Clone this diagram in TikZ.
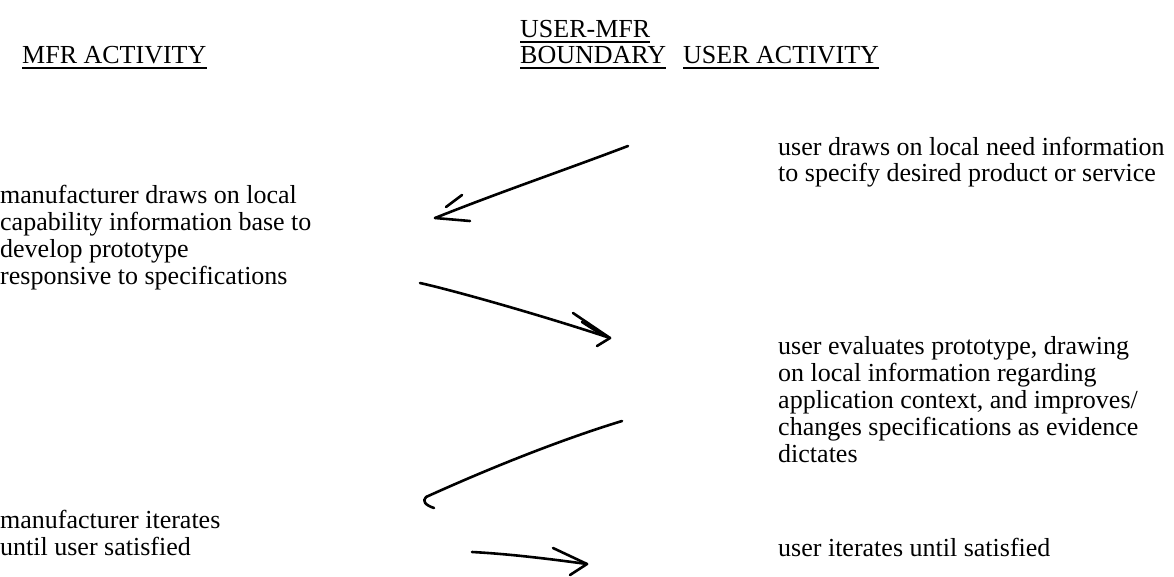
\documentclass[tikz,border=0pt]{standalone}
\usepackage{fontspec}
\setmainfont{Liberation Serif}
\begin{document}
\begin{tikzpicture}[x=1pt,y=-1pt,
  txt/.style={anchor=base west,inner sep=0pt,align=left,font=\fontsize{26}{26.8}\selectfont},
  hd/.style={anchor=base west,inner sep=0pt,font=\fontsize{26}{26.8}\selectfont},
  pen/.style={line width=2.6pt,line cap=round,line join=round},
  ul/.style={line width=1.6pt}]
\useasboundingbox (0,0) rectangle (1174,577);
% headings
\node[hd] (h1) at (22,64) {MFR ACTIVITY};
\node[hd] (h2a) at (520,38) {USER-MFR};
\node[hd] (h2b) at (520,64) {BOUNDARY};
\node[hd] (h3) at (683,64) {USER ACTIVITY};
\foreach \n in {h1,h2a,h2b,h3}{\draw[ul] ([yshift=-4pt]\n.base west) -- ([yshift=-4pt]\n.base east);}
% texts (anchored at the baseline of the last line)
\node[txt] (r1) at (778,182) {user draws on local need information\\to specify desired product or service};
\node[txt] (l1) at (0,284) {manufacturer draws on local\\capability information base to\\develop prototype\\responsive to specifications};
\node[txt] (r2) at (778,462) {user evaluates prototype, drawing\\on local information regarding\\application context, and improves/\\changes specifications as evidence\\dictates};
\node[txt] (l2) at (0,555) {manufacturer iterates\\until user satisfied};
\node[txt] (r3) at (778,556) {user iterates until satisfied};
% arrow end points
\coordinate (a1s) at (628,146); \coordinate (a1e) at (435,218);
\coordinate (a2s) at (420,283); \coordinate (a2e) at (610,338);
\coordinate (a3s) at (622,421); \coordinate (a3e) at (426,497);
\coordinate (a4s) at (472,552); \coordinate (a4e) at (587,564);
% arrow 1
\draw[pen] (a1s) .. controls (565,170) and (500,192) .. (a1e);
\draw[pen] (a1e) -- (470,221);
\draw[pen] (446,207) -- (462,195);
% arrow 2
\draw[pen] (a2s) .. controls (460,292) and (550,318) .. (a2e);
\draw[pen] (573,313) -- (a2e) -- (597,346);
\draw[pen] (582,322) -- (604,336);
% arrow 3
\draw[pen] (a3s) .. controls (560,440) and (490,468) .. (a3e);
\draw[pen] (a3e) .. controls (422,501) and (425,505) .. (434,508);
% arrow 4
\draw[pen] (a4s) .. controls (510,554) and (550,559) .. (a4e);
\draw[pen] (553,548) -- (a4e) -- (570,575);
\end{tikzpicture}
\end{document}
